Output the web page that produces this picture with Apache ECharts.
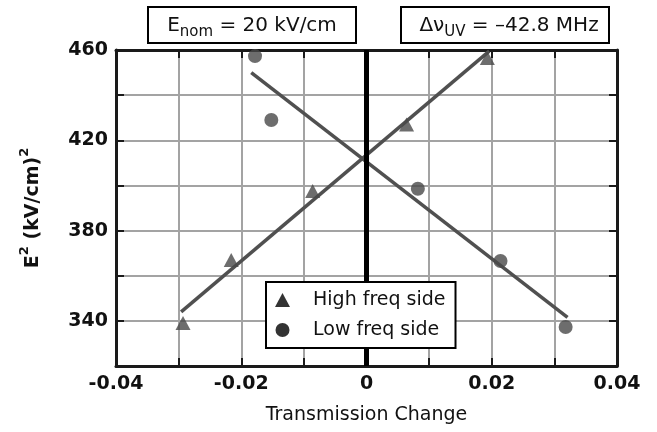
<!DOCTYPE html>
<html>
<head>
<meta charset="utf-8">
<script src="https://cdn.jsdelivr.net/npm/echarts@6/dist/echarts.min.js"></script>
<style>html,body{margin:0;padding:0;background:#fff}#c{width:657px;height:432px}</style>
</head>
<body>
<div id="c"></div>
<script>
// Data
const highFreq = [[-0.0293, 339], [-0.0216, 367], [-0.0086, 397.5], [0.0064, 427], [0.0193, 456.5]];
const lowFreq = [[-0.0178, 457.3], [-0.0152, 429], [0.0082, 398.5], [0.0214, 366.5], [0.0318, 337.3]];
const highFit = [[-0.0296, 344], [0.0196, 459.5]];
const lowFit = [[-0.0184, 450], [0.0321, 341.5]];
const xTickLabels = ['-0.04', '-0.02', '0', '0.02', '0.04'];
const yTickLabels = ['340', '380', '420', '460'];
const seriesNames = ['High freq side', 'Low freq side'];

const FONT = 'DejaVu Sans';
const markColor = '#484848';
const gridColor = '#a3a3a3';
const frameColor = '#1a1a1a';

const chart = echarts.init(document.getElementById('c'));

function xLabel(v) {
  const k = Math.round(v * 100);
  const idx = (k + 4) / 2;
  return xTickLabels[idx] !== undefined ? xTickLabels[idx] : '';
}
function yLabel(v) {
  const s = String(Math.round(v));
  return yTickLabels.indexOf(s) >= 0 ? s : '';
}

const axisCommonX = {
  type: 'value', min: -0.04, max: 0.04, interval: 0.02,
  axisLine: { show: true, onZero: false, lineStyle: { color: frameColor, width: 3 } },
  axisTick: { show: true, inside: true, length: 8, lineStyle: { color: frameColor, width: 2 } },
  minorTick: { show: true, splitNumber: 2, length: 8, lineStyle: { color: frameColor, width: 2 } }
};
const axisCommonY = {
  type: 'value', min: 320, max: 460, interval: 20,
  axisLine: { show: true, onZero: false, lineStyle: { color: frameColor, width: 3 } },
  axisTick: { show: true, inside: true, length: 8, lineStyle: { color: frameColor, width: 2 } }
};

const option = {
  animation: false,
  backgroundColor: '#fff',
  grid: { left: 116, right: 40, top: 50, bottom: 66 },
  xAxis: [
    Object.assign({}, axisCommonX, {
      position: 'bottom',
      name: 'Transmission Change', nameLocation: 'middle', nameGap: 40,
      nameTextStyle: { fontFamily: FONT, fontSize: 19, color: '#111' },
      axisLabel: { formatter: xLabel, fontFamily: FONT, fontWeight: 'bold', fontSize: 19, color: '#111', margin: 9 },
      splitLine: { show: true, lineStyle: { color: gridColor, width: 2 } },
      minorSplitLine: { show: true, lineStyle: { color: gridColor, width: 2 } }
    }),
    Object.assign({}, axisCommonX, {
      position: 'top',
      axisLabel: { show: false },
      splitLine: { show: false }
    })
  ],
  yAxis: [
    Object.assign({}, axisCommonY, {
      position: 'left',
      name: '{b|E}{sup|2}{b| (kV/cm)}{sup|2}', nameLocation: 'middle', nameGap: 72,
      nameTextStyle: {
        rich: {
          b: { fontFamily: FONT, fontWeight: 'bold', fontSize: 19, lineHeight: 22, color: '#111' },
          sup: { fontFamily: FONT, fontWeight: 'bold', fontSize: 13, lineHeight: 12, padding: [0, 0, 16, 0], color: '#111' }
        }
      },
      axisLabel: { formatter: yLabel, fontFamily: FONT, fontWeight: 'bold', fontSize: 19, color: '#111', margin: 8 },
      splitLine: { show: true, lineStyle: { color: gridColor, width: 2 } }
    }),
    Object.assign({}, axisCommonY, {
      position: 'right',
      axisLabel: { show: false },
      splitLine: { show: false }
    })
  ],
  legend: {
    orient: 'vertical', left: 266, top: 282,
    backgroundColor: '#fff', borderColor: '#000', borderWidth: 2, borderRadius: 0,
    padding: [8, 10, 8, 9],
    itemWidth: 15, itemHeight: 14, itemGap: 10,
    textStyle: { fontFamily: FONT, fontSize: 19, color: '#111', lineHeight: 20, padding: [0, 0, 0, 18] },
    data: [
      { name: seriesNames[0], icon: 'triangle', itemStyle: { color: '#000' } },
      { name: seriesNames[1], icon: 'circle', itemStyle: { color: '#000' } }
    ],
    z: 10
  },
  series: [
    {
      name: 'fitHigh', type: 'line', data: highFit, symbol: 'none',
      lineStyle: { color: '#505050', width: 3.5 }, z: 3,
      markLine: {
        silent: true, symbol: 'none', label: { show: false },
        lineStyle: { color: '#000', width: 5, type: 'solid' },
        data: [{ xAxis: 0 }]
      }
    },
    {
      name: 'fitLow', type: 'line', data: lowFit, symbol: 'none',
      lineStyle: { color: '#505050', width: 3.5 }, z: 3
    },
    {
      name: seriesNames[0], type: 'scatter', data: highFreq, symbol: 'triangle', symbolSize: [15, 14],
      itemStyle: { color: markColor }, z: 4
    },
    {
      name: seriesNames[1], type: 'scatter', data: lowFreq, symbol: 'circle', symbolSize: 14,
      itemStyle: { color: markColor }, z: 4
    }
  ],
  graphic: [
    { type: 'rect', shape: { x: 148, y: 7, width: 208, height: 36 }, style: { fill: '#fff', stroke: '#000', lineWidth: 2 } },
    {
      type: 'text', x: 252, y: 26,
      style: {
        text: '{a|E}{s|nom}{a| = 20 kV/cm}', align: 'center', verticalAlign: 'middle',
        rich: {
          a: { fontFamily: FONT, fontSize: 20, lineHeight: 22, fill: '#111' },
          s: { fontFamily: FONT, fontSize: 15, lineHeight: 15, padding: [13, 0, 0, 0], fill: '#111' }
        }
      }
    },
    { type: 'rect', shape: { x: 401, y: 7, width: 208, height: 36 }, style: { fill: '#fff', stroke: '#000', lineWidth: 2 } },
    {
      type: 'text', x: 509, y: 26,
      style: {
        text: '{a|\u0394\u03bd}{s|UV}{a| = \u201342.8 MHz}', align: 'center', verticalAlign: 'middle',
        rich: {
          a: { fontFamily: FONT, fontSize: 20, lineHeight: 22, fill: '#111' },
          s: { fontFamily: FONT, fontSize: 15, lineHeight: 15, padding: [13, 0, 0, 0], fill: '#111' }
        }
      }
    }
  ]
};
chart.setOption(option);
</script>
</body>
</html>
